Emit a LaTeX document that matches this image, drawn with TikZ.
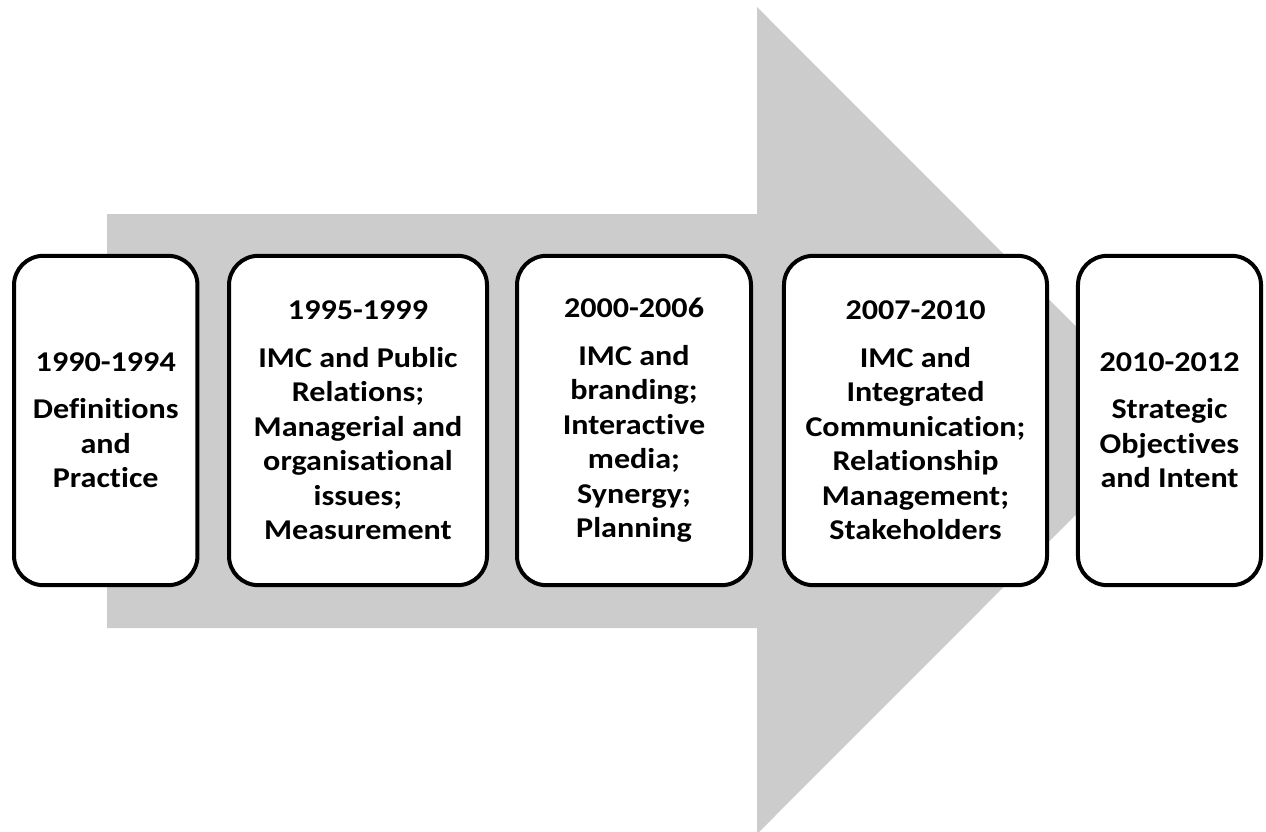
\documentclass[tikz,border=0pt]{standalone}
\usepackage{fontspec}
\setmainfont{Carlito}[FakeStretch=1.12, Ligatures=NoCommon]
\usepackage{xcolor}
\usepackage{tikz}
\definecolor{arrowgray}{RGB}{204,204,204}

\begin{document}
\begin{tikzpicture}[x=0.75pt,y=-0.75pt,
                period/.style={draw=black, line width=3pt, fill=white, rounded corners=22pt,
                    minimum height=247pt, align=center, inner sep=0pt,
                    font=\fontsize{21.5}{25.9}\selectfont\bfseries}]
                \useasboundingbox (0,0) rectangle (1266,831);
                \fill[arrowgray] (107,214) -- (757,214) -- (757,7) -- (1170,420.5) -- (757,834) -- (757,628) -- (107,628) -- cycle;
                \node[period, minimum width=137.6pt] (p1) at (105.75,420.5) {1990-1994\\[9.4pt]Definitions\\and\\Practice};
                \node[period, minimum width=193.5pt] (p2) at (358,420.5) {1995-1999\\[9.4pt]IMC and Public\\Relations;\\Managerial and\\organisational\\issues;\\Measurement};
                \node[period, minimum width=175.5pt] (p3) at (634,420.5) {2000-2006\\[9.4pt]IMC and\\branding;\\Interactive\\media;\\Synergy;\\Planning};
                \node[period, minimum width=197.3pt] (p4) at (915.5,420.5) {2007-2010\\[9.4pt]IMC and\\Integrated\\Communication;\\Relationship\\Management;\\Stakeholders};
                \node[period, minimum width=137.3pt] (p5) at (1169.5,420.5) {2010-2012\\[9.4pt]Strategic\\Objectives\\and Intent};
            \end{tikzpicture}
\end{document}
